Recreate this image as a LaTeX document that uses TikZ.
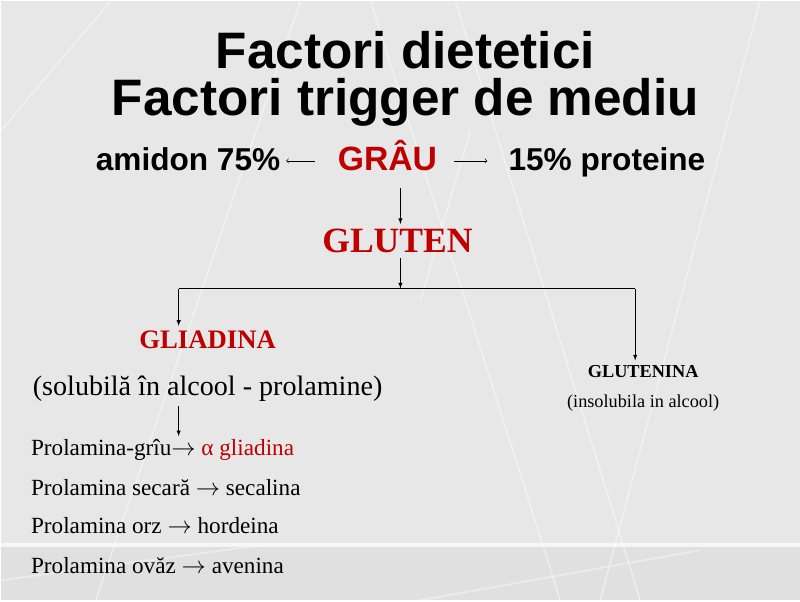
\documentclass[tikz,border=0pt]{standalone}
\usepackage{fontspec}
\setmainfont{Liberation Serif}
\setsansfont{Liberation Sans}
\usetikzlibrary{%
  calc,
  positioning,
  arrows,
}
\definecolor{darkred}{RGB}{192,0,0}
\definecolor{slidegray}{RGB}{224,224,224}

\begin{document}
\begin{tikzpicture}[x=0.025cm, y=-0.025cm,
  headline/.style={font=\sffamily\bfseries\fontsize{36.5}{40}\selectfont, anchor=base},
  wheatline/.style={font=\sffamily\bfseries\fontsize{22.5}{26}\selectfont, anchor=base, inner sep=0pt},
  flow/.style={thin, -latex},
  textarrow/.style={thin, ->},
  fraction/.style={font=\fontsize{20}{24}\selectfont, anchor=base},
  cereal/.style={font=\fontsize{16.5}{20}\selectfont, anchor=base west, inner sep=0pt},
]
        % background
        \fill[slidegray] (0,0) rectangle (800,600);
        \fill[white, opacity=0.25] (0,0) rectangle (800,545);
        \fill[white, opacity=0.7] (0,543) rectangle (800,547);
        \begin{scope}[white, opacity=0.4, line width=1.2pt]
          \draw (95,600) -- (300,0);
          \draw (370,0) -- (560,600);
          \draw (455,0) -- (640,600);
          \draw (760,0) -- (600,600);
          \draw (470,130) -- (420,300);
          \draw (0,130) -- (110,0);
          \draw (0,580) -- (260,545);
          \draw (420,600) -- (700,550);
        \end{scope}

        % title
        \node[headline] (title1) at (405,68) {Factori dietetici};
        \node[headline] (title2) at (405,115) {Factori trigger de mediu};

        % wheat
        \node[wheatline, text=darkred, font=\sffamily\bfseries\fontsize{24}{28}\selectfont]
          (grau) at (387,170) {GRÂU};
        \node[wheatline, anchor=base east] (amidon) at (280,170) {amidon 75\%};
        \node[wheatline, anchor=base west] (proteine) at (508,170) {15\% proteine};
        \draw[textarrow] ([xshift=-16pt, yshift=7pt]grau.base west) -- ([xshift=4pt, yshift=7pt]amidon.base east);
        \draw[textarrow] ([xshift=12pt, yshift=7pt]grau.base east) -- ([xshift=-15pt, yshift=7pt]proteine.base west);

        % gluten
        \node[anchor=base, text=darkred, font=\bfseries\fontsize{25.3}{30}\selectfont]
          (gluten) at (397,252) {GLUTEN};
        \draw[flow] (400,187) -- (gluten.north -| 400,0);

        \coordinate (split) at (400,288);
        \coordinate (leftend) at (178,288);
        \coordinate (rightend) at (635,288);
        \draw[flow] (gluten.south -| split) -- (split);
        \draw (leftend) -- (rightend);

        % gliadina
        \node[anchor=base, text=darkred, font=\bfseries\fontsize{19}{22}\selectfont]
          (gliadina) at (207,348) {GLIADINA};
        \node[fraction] (solubila) at (207,395) {(solubilă în alcool - prolamine)};
        \draw[flow] (leftend) -- (leftend |- gliadina.north);

        % glutenina
        \node[anchor=base, font=\bfseries\fontsize{13}{16}\selectfont]
          (glutenina) at (643,377) {GLUTENINA};
        \node[anchor=base, font=\fontsize{13}{16}\selectfont]
          (insolubila) at (643,407) {(insolubila in alcool)};
        \draw[flow] (rightend) -- (rightend |- glutenina.north);

        % prolamine
        \node[cereal] (griu) at (30,455)
          {Prolamina-grîu$\rightarrow$ \textcolor{darkred}{α gliadina}};
        \node[cereal] (secara) at (30,495) {Prolamina secară $\rightarrow$ secalina};
        \node[cereal] (orz) at (30,533) {Prolamina orz $\rightarrow$ hordeina};
        \node[cereal] (ovaz) at (30,573) {Prolamina ovăz $\rightarrow$ avenina};
        \draw[flow] (solubila.south -| 178,0) -- ([yshift=2pt]griu.north -| 178,0);
\end{tikzpicture}
\end{document}
